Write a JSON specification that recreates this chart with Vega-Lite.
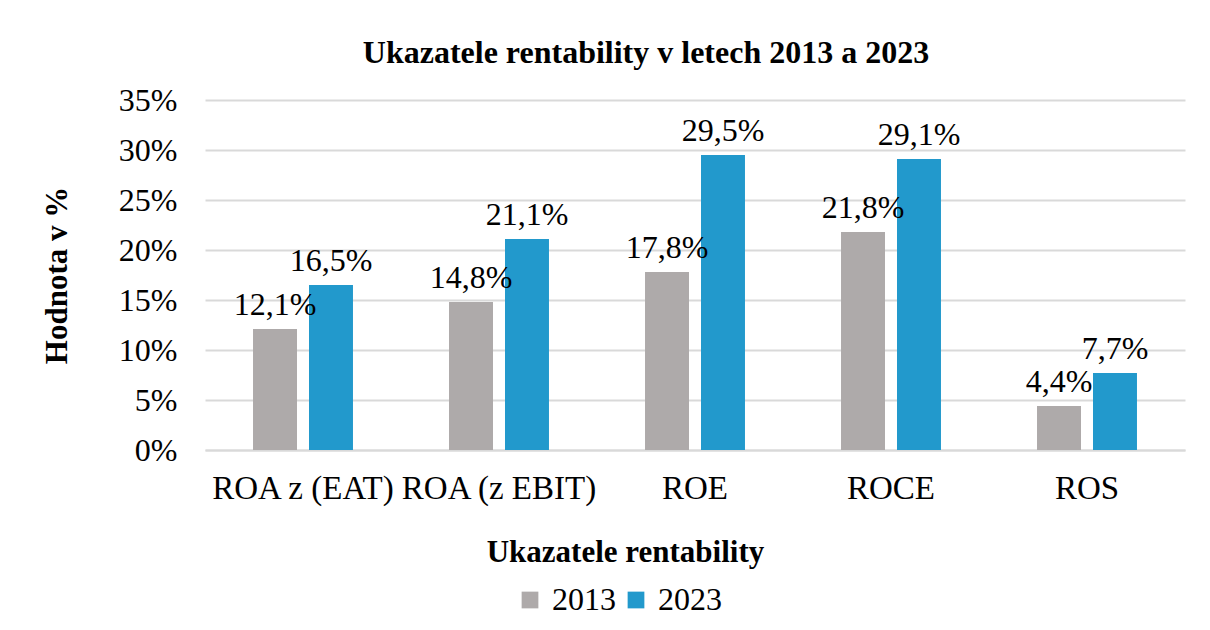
{
  "$schema": "https://vega.github.io/schema/vega-lite/v6.json",
  "autosize": {"type": "none"},
  "width": 980,
  "height": 350,
  "padding": {"left": 205, "top": 100, "right": 25, "bottom": 180},
  "background": "white",
  "title": {"text": "Ukazatele rentability v letech 2013 a 2023", "font": "Liberation Serif", "fontSize": 32, "fontWeight": "bold", "color": "#000000", "anchor": "middle", "offset": 14, "dx": -49},
  "data": {"values": [
    {"ukazatel": "ROA z (EAT)", "rok": "2013", "hodnota": 12.1, "label": "12,1%"},
    {"ukazatel": "ROA z (EAT)", "rok": "2023", "hodnota": 16.5, "label": "16,5%"},
    {"ukazatel": "ROA (z EBIT)", "rok": "2013", "hodnota": 14.8, "label": "14,8%"},
    {"ukazatel": "ROA (z EBIT)", "rok": "2023", "hodnota": 21.1, "label": "21,1%"},
    {"ukazatel": "ROE", "rok": "2013", "hodnota": 17.8, "label": "17,8%"},
    {"ukazatel": "ROE", "rok": "2023", "hodnota": 29.5, "label": "29,5%"},
    {"ukazatel": "ROCE", "rok": "2013", "hodnota": 21.8, "label": "21,8%"},
    {"ukazatel": "ROCE", "rok": "2023", "hodnota": 29.1, "label": "29,1%"},
    {"ukazatel": "ROS", "rok": "2013", "hodnota": 4.4, "label": "4,4%"},
    {"ukazatel": "ROS", "rok": "2023", "hodnota": 7.7, "label": "7,7%"}
  ]},
  "encoding": {
    "x": {"field": "ukazatel", "type": "nominal", "sort": null,
      "scale": {"paddingInner": 0.49, "paddingOuter": 0.245},
      "axis": {"title": "Ukazatele rentability", "labelAngle": 0, "ticks": false, "domain": true, "domainColor": "#D9D9D9", "domainWidth": 2, "labelLimit": 0,
        "labelFont": "Liberation Serif", "labelFontSize": 33, "labelColor": "#000000", "labelPadding": 22,
        "titleFont": "Liberation Serif", "titleFontSize": 31, "titleFontWeight": "bold", "titleColor": "#000000", "titlePadding": 32, "titleX": 420, "titleAlign": "center"}},
    "xOffset": {"field": "rok", "type": "nominal", "scale": {"paddingInner": 0.2143, "paddingOuter": 0}},
    "y": {"field": "hodnota", "type": "quantitative",
      "scale": {"domain": [0, 35]},
      "axis": {"title": "Hodnota v %", "values": [0, 5, 10, 15, 20, 25, 30, 35], "labelExpr": "datum.value + '%'",
        "ticks": false, "domain": false, "grid": true, "gridColor": "#D9D9D9", "gridWidth": 2,
        "labelFont": "Liberation Serif", "labelFontSize": 32, "labelColor": "#000000", "labelPadding": 28,
        "titleFont": "Liberation Serif", "titleFontSize": 31, "titleFontWeight": "bold", "titleColor": "#000000", "titlePadding": 45}}
  },
  "layer": [
    {"mark": {"type": "bar"},
      "encoding": {"color": {"field": "rok", "type": "nominal",
        "scale": {"domain": ["2013", "2023"], "range": ["#AEAAAA", "#2299CC"]},
        "legend": {"title": null, "orient": "none", "legendX": 309, "legendY": 484, "direction": "horizontal", "symbolType": "square", "symbolSize": 280,
          "labelFont": "Liberation Serif", "labelFontSize": 32, "labelColor": "#000000", "columnPadding": 4, "labelOffset": 6, "symbolStrokeWidth": 0}}}},
    {"mark": {"type": "text", "baseline": "alphabetic", "dy": -14, "font": "Liberation Serif", "fontSize": 32, "color": "#000000"},
      "encoding": {"text": {"field": "label"}}}
  ],
  "config": {"view": {"stroke": null}}
}
